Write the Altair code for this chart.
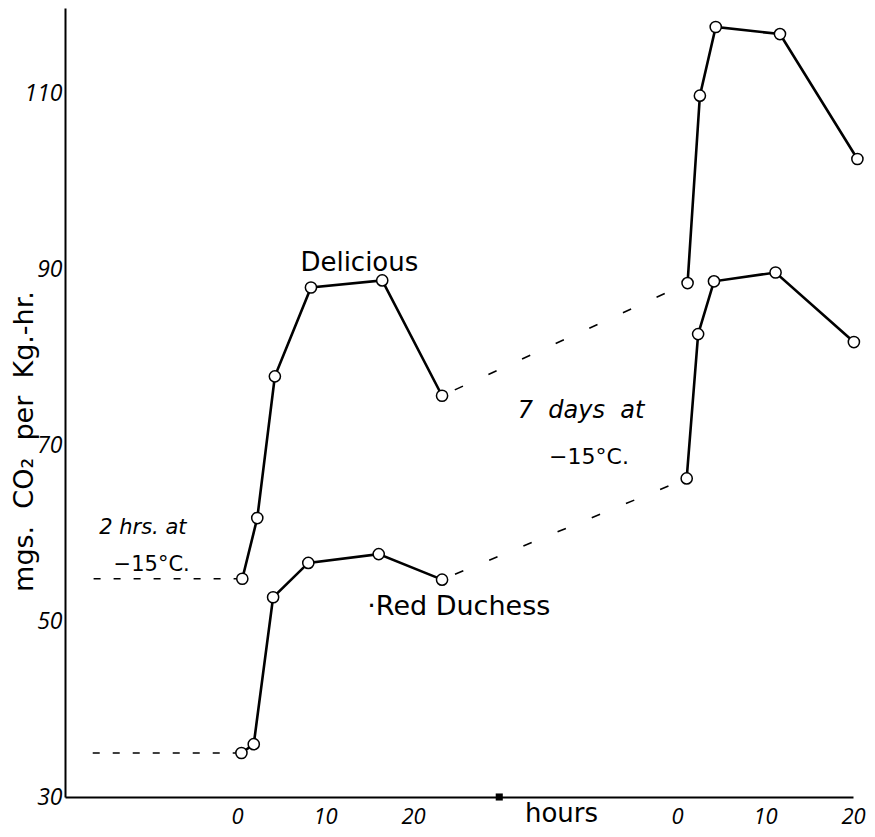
import altair as alt
import pandas as pd

# second panel hours are drawn shifted on the shared hour axis
PANEL2_OFFSET = 50

# Panel 1: after 2 hrs at -15 C
del_h1 = [0.6, 2.3, 4.3, 8.4, 16.5, 23.3]
del_v1 = [54.8, 61.7, 77.8, 87.9, 88.7, 75.6]
rd_h1 = [0.5, 1.9, 4.1, 8.1, 16.1, 23.3]
rd_v1 = [35.0, 36.0, 52.7, 56.6, 57.6, 54.7]
# Panel 2: after 7 days at -15 C
del_h2 = [1.2, 2.6, 4.4, 11.7, 20.5]
del_v2 = [88.4, 109.7, 117.5, 116.7, 102.5]
rd_h2 = [1.1, 2.4, 4.2, 11.2, 20.1]
rd_v2 = [66.2, 82.6, 88.6, 89.6, 81.7]
# start of the dashed baseline before the first reading
pre_start_h = [-16.3, -16.4]

y_ticks = [30, 50, 70, 90, 110]
x_ticks = [0, 10, 20]

NB = "\u00a0"
labels = ["Delicious", "\u00b7Red Duchess", "2 hrs. at", "\u221215\u00b0C.",
          f"7 {NB}days {NB}at", "\u221215\u00b0C."]
label_h = [13.9, 25.2, -10.7, -9.7, 39.1, 40.0]
label_v = [90.7, 51.6, 60.6, 56.4, 73.9, 68.6]
label_style = ["normal", "normal", "italic", "normal", "italic", "normal"]
label_size = [26, 27, 21, 21, 24, 22]

marker_h = [29.8]
marker_v = [30]

X_DOMAIN = [-19.55, 70]
Y_DOMAIN = [30, 119.66]

rows = []
for name, hs, vs, off in [("Delicious 1", del_h1, del_v1, 0), ("Red Duchess 1", rd_h1, rd_v1, 0),
                          ("Delicious 2", del_h2, del_v2, PANEL2_OFFSET), ("Red Duchess 2", rd_h2, rd_v2, PANEL2_OFFSET)]:
    for i, (h, v) in enumerate(zip(hs, vs)):
        rows.append({"hour": h + off, "value": v, "grp": name, "order": i})
solid = pd.DataFrame(rows)

pre = pd.DataFrame([
    {"hour": pre_start_h[0], "value": del_v1[0], "grp": "d", "order": 0},
    {"hour": del_h1[0], "value": del_v1[0], "grp": "d", "order": 1},
    {"hour": pre_start_h[1], "value": rd_v1[0], "grp": "r", "order": 0},
    {"hour": rd_h1[0], "value": rd_v1[0], "grp": "r", "order": 1},
])
conn = pd.DataFrame([
    {"hour": del_h1[-1], "value": del_v1[-1], "grp": "d", "order": 0},
    {"hour": del_h2[0] + PANEL2_OFFSET, "value": del_v2[0], "grp": "d", "order": 1},
    {"hour": rd_h1[-1], "value": rd_v1[-1], "grp": "r", "order": 0},
    {"hour": rd_h2[0] + PANEL2_OFFSET, "value": rd_v2[0], "grp": "r", "order": 1},
])
texts = pd.DataFrame({"hour": label_h, "value": label_v, "text": labels,
                      "style": label_style, "size": label_size})
marker = pd.DataFrame({"hour": marker_h, "value": marker_v})

FONT = "Open Sans"
TFONT = "DejaVu Sans"

x = alt.X("hour:Q", scale=alt.Scale(domain=X_DOMAIN, nice=False, zero=False),
          axis=alt.Axis(values=x_ticks + [t + PANEL2_OFFSET for t in x_ticks],
                        labelExpr=f"datum.value >= 40 ? '' + (datum.value - {PANEL2_OFFSET}) : datum.label",
                        ticks=False, grid=False, labelFlush=False, labelOverlap=False,
                        labelFont=FONT, labelFontSize=22, labelFontStyle="italic",
                        labelColor="black", labelBaseline="middle", labelPadding=19,
                        domainColor="black", domainWidth=2,
                        title="hours", titleFont=TFONT, titleFontSize=26, titleFontWeight="normal",
                        titleColor="black", titleX=496, titleY=24, titleAlign="center",
                        titleBaseline="alphabetic"))
y = alt.Y("value:Q", scale=alt.Scale(domain=Y_DOMAIN, nice=False, zero=False),
          axis=alt.Axis(values=y_ticks, ticks=False, grid=False, labelFont=FONT,
                        labelFontSize=23, labelFontStyle="italic", labelColor="black",
                        labelPadding=3, domainColor="black", domainWidth=2,
                        title=f"mgs. {NB}CO\u2082 {NB}per {NB}Kg.-hr.", titleFont=TFONT, titleFontSize=27,
                        titleFontWeight="normal", titleColor="black", titleX=-41, titleY=433,
                        titleAlign="center", titleBaseline="middle", titleAngle=270))

pre_layer = alt.Chart(pre).mark_line(color="black", strokeWidth=1.6, strokeDash=[7, 13]).encode(
    x=x, y=y, detail="grp:N", order="order:Q")
conn_layer = alt.Chart(conn).mark_line(color="black", strokeWidth=1.6, strokeDash=[9, 28],
                                       strokeDashOffset=-14).encode(
    x=x, y=y, detail="grp:N", order="order:Q")
line_layer = alt.Chart(solid).mark_line(color="black", strokeWidth=2.6).encode(
    x=x, y=y, detail="grp:N", order="order:Q")
pt_layer = alt.Chart(solid).mark_point(shape="circle", filled=True, fill="white", stroke="black",
                                       strokeWidth=1.5, size=125, opacity=1).encode(x=x, y=y)
marker_layer = alt.Chart(marker).mark_point(shape="square", filled=True, color="black",
                                            size=50, opacity=1).encode(x=x, y=y)


def text_layer(style):
    return alt.Chart(texts).transform_filter(alt.datum.style == style).mark_text(
        font=TFONT, color="black", align="center", baseline="middle", fontStyle=style).encode(
        x=x, y=y, text="text:N",
        size=alt.Size("size:Q", legend=None, scale=None))


chart = alt.layer(pre_layer, conn_layer, line_layer, pt_layer, marker_layer,
                  text_layer("normal"), text_layer("italic")).properties(
    width=788, height=789,
    padding={"left": 57, "top": 0, "right": 14, "bottom": 32},
    autosize=alt.AutoSizeParams(type="none"),
    background="white",
).configure_view(stroke=None)

chart.save("out.html", embed_options={"renderer": "svg", "actions": False})
